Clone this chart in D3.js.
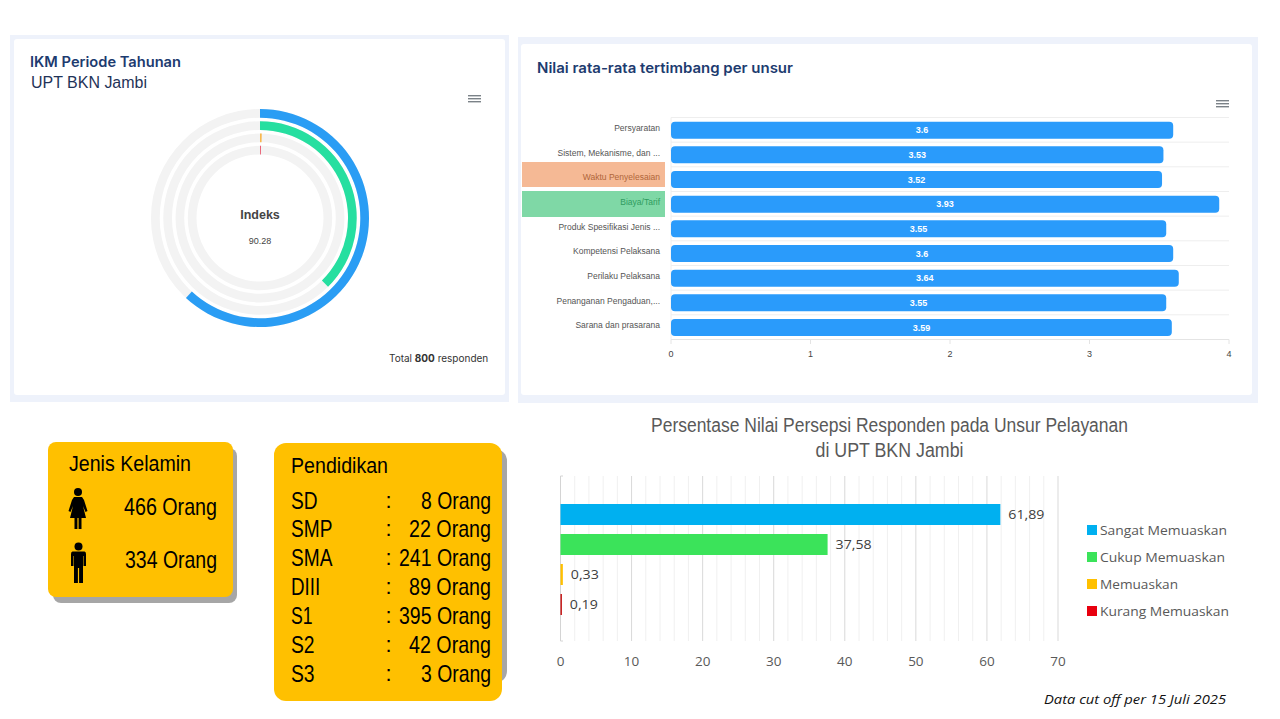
<!DOCTYPE html>
<html><head><meta charset="utf-8">
<script src="https://cdn.jsdelivr.net/npm/d3@7"></script>
<style>html,body{margin:0;padding:0;background:#fff}svg{display:block}text{font-family:"Liberation Sans",sans-serif}</style>
</head><body><svg id="c" width="1280" height="719"></svg>
<script>
// Radial chart
const radialSeries = ["Sangat Memuaskan","Cukup Memuaskan","Memuaskan","Kurang Memuaskan"];
const radialValues = [61.89,37.58,0.33,0.19];
const radialColors = ["#2a9df4","#26dfa0","#f8b84e","#e8475f"];
// Weighted means
const unsur = ["Persyaratan","Sistem, Mekanisme, dan ...","Waktu Penyelesaian","Biaya/Tarif","Produk Spesifikasi Jenis ...","Kompetensi Pelaksana","Perilaku Pelaksana","Penanganan Pengaduan,...","Sarana dan prasarana"];
const unsurValues = [3.6,3.53,3.52,3.93,3.55,3.6,3.64,3.55,3.59];
const unsurTicks = [0,1,2,3,4];
// Perception
const persepsiSeries = ["Sangat Memuaskan","Cukup Memuaskan","Memuaskan","Kurang Memuaskan"];
const persepsiValues = [61.89,37.58,0.33,0.19];
const persepsiLabels = ["61,89","37,58","0,33","0,19"];
const persepsiColors = ["#00b0f0","#3be35a","#ffc000","#c00000"];
const persepsiTicks = [0,10,20,30,40,50,60,70];
const persepsiMinor = [2,4,6,8,12,14,16,18,22,24,26,28,32,34,36,38,42,44,46,48,52,54,56,58,62,64,66,68];
// Demographics
const eduLabels = ["SD","SMP","SMA","DIII","S1","S2","S3"];
const eduValues = [8,22,241,89,395,42,3];
const genderValues = [466,334];

const svg = d3.select("#c");
function T(x,y,s,o={}){
  const t = svg.append("text").attr("x",x).attr("y",y).text(s)
    .attr("font-size",o.size||12).attr("fill",o.fill||"#000").attr("text-anchor",o.anchor||"start");
  if(o.family) t.style("font-family",o.family);
  if(o.weight) t.attr("font-weight",o.weight);
  if(o.italic) t.attr("font-style","italic");
  if(o.len) t.attr("textLength",o.len).attr("lengthAdjust","spacingAndGlyphs");
  return t;
}
function R(x,y,w,h,f,r=0){return svg.append("rect").attr("x",x).attr("y",y).attr("width",w).attr("height",h).attr("fill",f).attr("rx",r).attr("ry",r);}
function burger(x,y){[0,3,6].forEach(d=>R(x,y+d,13,1.4,"#7b8288"));}

// Cards
R(10,35,499,367,"#eef2fb"); R(14,39,491,356,"#fff",3);
R(518,37,740,366,"#eef2fb"); R(521,44,731,351,"#fff",3);

// Card 1
const heading='Inter,"Noto Sans",sans-serif';
T(30,67,"IKM Periode Tahunan",{size:14,weight:600,fill:"#1d3b6f",family:heading,len:151});
T(31,88,"UPT BKN Jambi",{size:16,fill:"#1f3358",len:116});
burger(468,95);
const cx=260, cy=218;
const rOuter=d3.scalePoint().domain(radialSeries).range([109,72.2]);
const ang=d3.scaleLinear().domain([0,100]).range([0,2*Math.PI]);
const arc=d3.arc();
const ring=svg.append("g").attr("transform",`translate(${cx},${cy})`);
radialSeries.forEach((s,i)=>{
  const ro=rOuter(s), ri=ro-8.7;
  ring.append("path").attr("d",arc({innerRadius:ri,outerRadius:ro,startAngle:0,endAngle:2*Math.PI})).attr("fill","#f3f3f3");
});
radialSeries.forEach((s,i)=>{
  const ro=rOuter(s), ri=ro-8.7;
  const end=Math.max(ang(radialValues[i]),0.012);
  ring.append("path").attr("d",arc({innerRadius:ri,outerRadius:ro,startAngle:0,endAngle:end})).attr("fill",radialColors[i]);
});
T(cx,219,"Indeks",{size:12.5,weight:700,fill:"#444",anchor:"middle"});
T(cx,244,"90.28",{size:9,fill:"#444",anchor:"middle"});
const tot=T(389,362,"Total ",{size:10,fill:"#333",family:'Inter,sans-serif'});
tot.append("tspan").attr("font-weight",700).text("800");
tot.append("tspan").text(" responden");

// Card 2
T(537,73,"Nilai rata-rata tertimbang per unsur",{size:14,weight:600,fill:"#1d3b6f",family:heading,len:256});
burger(1216,100);
const bx=d3.scaleLinear().domain([0,4]).range([671,1229]);
const by=d3.scaleBand().domain(unsur).range([117.5,339.5]);
R(522,162,143,25,"#f5b995"); R(522,191,143,26,"#7fd8a6");
const g2=svg.append("g");
by.domain().forEach((u,i)=>{
  g2.append("line").attr("x1",bx(0)).attr("x2",bx(4)).attr("y1",by(u)).attr("y2",by(u)).attr("stroke","#eeeeee");
});
g2.append("line").attr("x1",bx(0)).attr("x2",bx(4)).attr("y1",339.5).attr("y2",339.5).attr("stroke","#e4e4e4");
g2.append("line").attr("x1",bx(0)).attr("x2",bx(0)).attr("y1",117.5).attr("y2",339.5).attr("stroke","#eeeeee");
const labelFill=["#555","#555","#b0663a","#2f9c5f","#555","#555","#555","#555","#555"];
unsur.forEach((u,i)=>{
  const y=by(u), h=by.bandwidth();
  g2.append("rect").attr("x",bx(0)).attr("y",y+4.2).attr("width",bx(unsurValues[i])-bx(0)).attr("height",17).attr("rx",4).attr("fill","#2a9bfb");
  T(660,y+h/2+1.2,u,{size:8.5,fill:labelFill[i],anchor:"end"});
  T((bx(0)+bx(unsurValues[i]))/2,y+h/2+3.5,String(unsurValues[i]),{size:9,weight:700,fill:"#fff",anchor:"middle"});
});
unsurTicks.forEach(t=>{
  g2.append("line").attr("x1",bx(t)).attr("x2",bx(t)).attr("y1",339.5).attr("y2",344).attr("stroke","#e4e4e4");
  T(bx(t),357,String(t),{size:9,fill:"#444",anchor:"middle"});
});

// Gender box
R(53,448,184,155,"#a6a6a6",8); R(48,442,185,155,"#ffc000",8);
T(69,471,"Jenis Kelamin",{size:22,len:122});
const figs=svg.append("g");
function woman(x,y){
  const g=figs.append("g").attr("transform",`translate(${x},${y})`);
  g.append("circle").attr("cx",0).attr("cy",5).attr("r",4).attr("fill","#000");
  g.append("path").attr("d","M-4,10 L4,10 L6,13 L9.5,24 L7.5,25 L5,19 L8,31 L3.5,31 L3.5,42 L0.6,42 L0.6,31 L-0.6,31 L-0.6,42 L-3.5,42 L-3.5,31 L-8,31 L-5,19 L-7.5,25 L-9.5,24 L-6,13 Z").attr("fill","#000");
}
function man(x,y){
  const g=figs.append("g").attr("transform",`translate(${x},${y})`);
  g.append("circle").attr("cx",0).attr("cy",4.5).attr("r",4).attr("fill","#000");
  g.append("path").attr("d","M-6,9.5 Q-7.5,9.5 -7.5,12 L-7.5,24 L-5,24 L-5,14 L-4.5,14 L-4.5,41 L-0.6,41 L-0.6,26 L0.6,26 L0.6,41 L4.5,41 L4.5,14 L5,14 L5,24 L7.5,24 L7.5,12 Q7.5,9.5 6,9.5 Z").attr("fill","#000");
}
woman(78,487); man(78.5,542);
T(217,515,genderValues[0]+" Orang",{size:24,anchor:"end",len:93});
T(217,568,genderValues[1]+" Orang",{size:24,anchor:"end",len:92});

// Education box
R(278,449,229,234,"#a6a6a6",12); R(274,443,228,258,"#ffc000",12);
T(291,473,"Pendidikan",{size:22,len:97});
const ey=d3.scalePoint().domain(eduLabels).range([508.5,681.5]);
eduLabels.forEach((l,i)=>{
  const y=ey(l);
  T(291,y,l,{size:24,len:l.length*13.8+(l==="DIII"?-26:0)+(l==="SD"?-1:0)+(l==="S1"?-6:0)+(l.startsWith("S")&&l.length==2&&l!="SD"&&l!="S1"?-4:0)});
  T(388.5,y-1,":",{size:22,anchor:"middle"});
  const s=eduValues[i]+" Orang";
  const w=({1:70,2:82,3:92})[String(eduValues[i]).length];
  T(491,y,s,{size:24,anchor:"end",len:w});
});

// Bottom chart
T(889.5,432,"Persentase Nilai Persepsi Responden pada Unsur Pelayanan",{size:20,fill:"#595959",anchor:"middle",len:477});
T(889.5,457,"di UPT BKN Jambi",{size:20,fill:"#595959",anchor:"middle",len:148});
const px=d3.scaleLinear().domain([0,70]).range([560.5,1058]);
const g3=svg.append("g");
persepsiMinor.forEach(t=>g3.append("line").attr("x1",px(t)).attr("x2",px(t)).attr("y1",476).attr("y2",641).attr("stroke","#f0f0f0"));
persepsiTicks.filter(t=>t>0).forEach(t=>g3.append("line").attr("x1",px(t)).attr("x2",px(t)).attr("y1",476).attr("y2",641).attr("stroke","#d9d9d9"));
g3.append("path").attr("d","M563,476 H560.5 V641 H563").attr("fill","none").attr("stroke","#d4d4d4");
const labelFont='"Open Sans",sans-serif';
const py=d3.scalePoint().domain(persepsiSeries).range([504,594]);
persepsiSeries.forEach((s,i)=>{
  const y=py(s);
  g3.append("rect").attr("x",px(0)).attr("y",y).attr("width",Math.max(px(persepsiValues[i])-px(0),1)).attr("height",21).attr("fill",persepsiColors[i]);
  T(px(persepsiValues[i])+8,y+15,persepsiLabels[i],{size:13,fill:"#404040",family:labelFont,len:persepsiLabels[i].length==5?36:28});
  R(1087,525+i*27,10,10,persepsiColors[i]==="#c00000"?"#e8000f":persepsiColors[i]);
  const lw=[127,125,78,129][i];
  T(1100,535+i*27,s,{size:13.5,fill:"#595959",family:labelFont,len:lw});
});
persepsiTicks.forEach(t=>T(px(t),666,String(t),{size:13.5,fill:"#595959",family:labelFont,anchor:"middle"}));
T(1044,704,"Data cut off per 15 Juli 2025",{size:13,italic:true,fill:"#111",family:labelFont,len:182});
</script></body></html>
